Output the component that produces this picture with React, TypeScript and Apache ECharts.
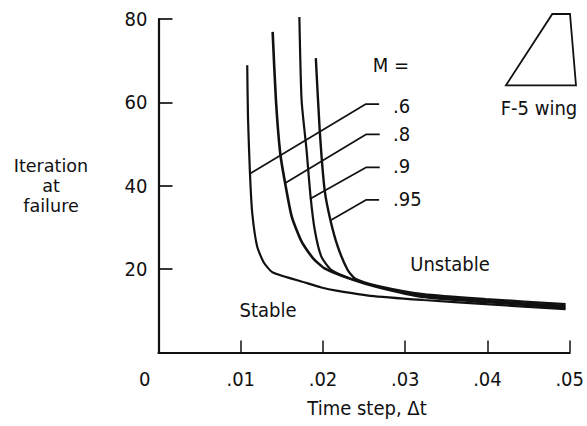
import React, { useEffect, useRef } from "react";
import * as echarts from "echarts";

const xTicks = [0, 0.01, 0.02, 0.03, 0.04, 0.05];
const machLabels = [".6", ".8", ".9", ".95"];
const curve06 = [[0.01079,68.9],[0.01088,56.5],[0.01112,43],[0.0114,33.4],[0.012,25.4],[0.0128,21.6],[0.0139,19.2],[0.0178,16.8],[0.0198,15.6],[0.0218,14.8],[0.0258,13.6],[0.0322,12.6],[0.0398,11.6],[0.0495,10.4]];
const curve08 = [[0.01388,76.9],[0.01428,60.5],[0.0148,47.8],[0.0154,40.6],[0.0162,32.6],[0.0174,26.6],[0.0188,22.6],[0.0202,20.2],[0.0234,17.6],[0.0266,15.7],[0.0322,13.3],[0.0398,12.1],[0.0495,10.8]];
const curve09 = [[0.01713,80.5],[0.0174,60.5],[0.018,48.6],[0.01849,37.4],[0.019,29.4],[0.0198,23],[0.021,19.8],[0.0234,17.7],[0.0266,15.9],[0.0322,13.7],[0.0398,12.4],[0.0495,11.2]];
const curve095 = [[0.01913,70.6],[0.0196,53.4],[0.0202,39],[0.0209,31.8],[0.0218,25.4],[0.023,19.8],[0.024,17.6],[0.0266,16],[0.0322,14],[0.0398,12.8],[0.0495,11.6]];
const leader06 = [[0.01121,43],[0.02522,59.6],[0.02683,59.6]];
const leader08 = [[0.01548,40.7],[0.02522,52.3],[0.0269,52.3]];
const leader09 = [[0.01841,36.8],[0.02522,44.4],[0.0269,44.4]];
const leader095 = [[0.021,31.8],[0.02522,36.6],[0.02683,36.6]];

const INK = "#111";
const FONT = "'DejaVu Sans Condensed', 'Liberation Sans Narrow', sans-serif";
const SIZE = 20;

function txt(text: string, x: number, y: number, size = SIZE, align = "center", lineHeight?: number) {
  return {
    type: "text",
    x,
    y,
    style: { text, fill: INK, font: `${size}px ${FONT}`, align, verticalAlign: "middle", lineHeight },
  };
}

export default function App() {
  const ref = useRef<HTMLDivElement>(null);
  useEffect(() => {
    document.body.style.margin = "0";
    const chart = echarts.init(ref.current!, undefined, { renderer: "svg" });
    const curve = (name: string, data: number[][], width: number) => ({
      name,
      type: "line",
      data,
      smooth: 0.2,
      showSymbol: false,
      clip: false,
      lineStyle: { color: INK, width },
    });
    const leader = (name: string, data: number[][]) => ({
      name,
      type: "line",
      data,
      showSymbol: false,
      clip: false,
      lineStyle: { color: INK, width: 1.7 },
    });
    chart.setOption({
      animation: false,
      backgroundColor: "#fff",
      grid: { left: 158.5, right: 12, top: 19, bottom: 73.5 },
      xAxis: {
        type: "value",
        min: 0,
        max: 0.05,
        interval: 0.01,
        splitLine: { show: false },
        axisLine: { show: true, onZero: false, lineStyle: { color: INK, width: 2.2 } },
        axisTick: { show: true, inside: true, length: 12, lineStyle: { color: INK, width: 1.5 } },
        axisLabel: {
          color: INK,
          fontFamily: FONT,
          fontSize: SIZE,
          margin: 16,
          showMinLabel: true,
          showMaxLabel: true,
          alignMinLabel: "right",
          formatter: (v: number) => {
            const i = xTicks.findIndex((t) => Math.abs(t - v) < 1e-9);
            return i === 0 ? "{z|0}" : "." + String(i).padStart(2, "0");
          },
          rich: { z: { padding: [0, 8, 0, 0], fontFamily: FONT, fontSize: SIZE, color: INK } },
        },
      },
      yAxis: {
        type: "value",
        min: 0,
        max: 80,
        interval: 20,
        splitLine: { show: false },
        axisLine: { show: true, onZero: false, lineStyle: { color: INK, width: 2.2 } },
        axisTick: { show: true, inside: true, length: 14, lineStyle: { color: INK, width: 1.7 } },
        axisLabel: {
          color: INK,
          fontFamily: FONT,
          fontSize: SIZE,
          margin: 11,
          formatter: (v: number) => (v === 0 ? "" : String(v)),
        },
      },
      series: [
        curve("M = .6", curve06, 2.2),
        curve("M = .8", curve08, 2.6),
        curve("M = .9", curve09, 2.2),
        curve("M = .95", curve095, 2.4),
        leader("leader .6", leader06),
        leader("leader .8", leader08),
        leader("leader .9", leader09),
        leader("leader .95", leader095),
      ],
      graphic: [
        { ...txt("Iteration", 51, 166, 17), scaleX: 1.15 },
        { ...txt("at", 51, 186, 17), scaleX: 1.15 },
        { ...txt("failure", 51, 206, 17), scaleX: 1.15 },
        txt("Time step, Δt", 367, 408),
        txt("Unstable", 450, 264),
        txt("Stable", 268, 310),
        txt("M =", 391, 65),
        txt(machLabels[0], 393, 106, SIZE, "left"),
        txt(machLabels[1], 393, 134, SIZE, "left"),
        txt(machLabels[2], 393, 166, SIZE, "left"),
        txt(machLabels[3], 393, 199, SIZE, "left"),
        txt("F-5 wing", 539, 108),
        {
          type: "polygon",
          shape: { points: [[506, 85.3], [552.3, 14], [570, 14], [576, 85.3]] },
          style: { fill: "none", stroke: INK, lineWidth: 1.8 },
        },
      ],
    });
    return () => chart.dispose();
  }, []);
  return <div ref={ref} style={{ width: 587, height: 426 }} />;
}
